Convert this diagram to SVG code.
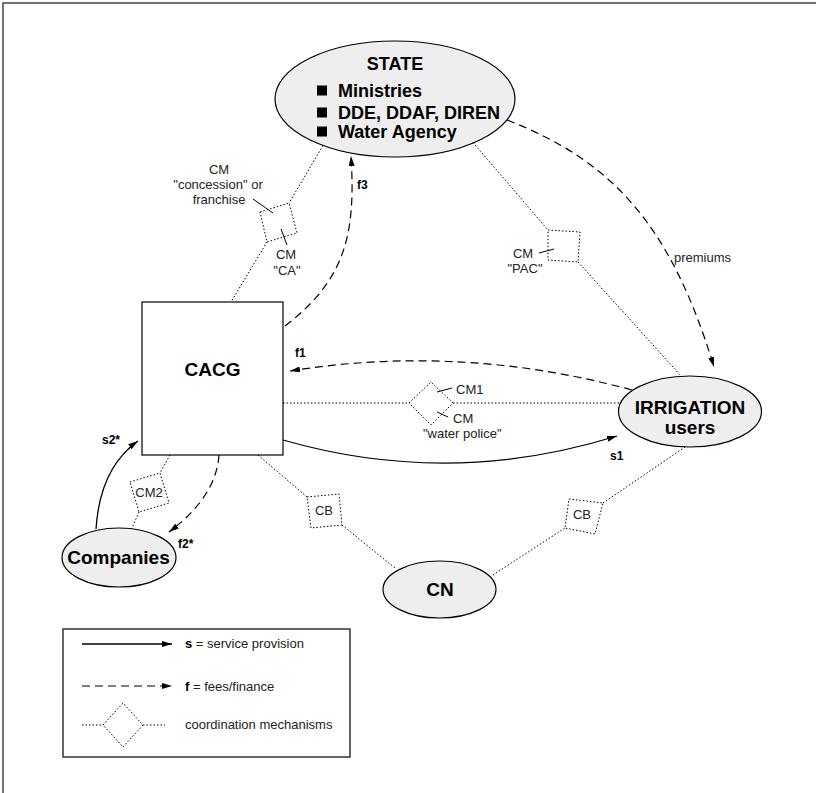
<svg xmlns="http://www.w3.org/2000/svg" width="816" height="793" viewBox="0 0 816 793">
<defs>
<marker id="ah" viewBox="0 0 10 6" refX="10" refY="3" markerWidth="10" markerHeight="6" markerUnits="userSpaceOnUse" orient="auto"><path d="M0,0 L10,3 L0,6 z" fill="#000"/></marker>
</defs>
<style>
.node{fill:#eeeeee;stroke:#000;stroke-width:1.2}
.box{fill:#fff;stroke:#000;stroke-width:1.2}
.dot{fill:none;stroke:#000;stroke-width:1;stroke-dasharray:1.5 2}
.dash{fill:none;stroke:#000;stroke-width:1.2;stroke-dasharray:8 5}
.solid{fill:none;stroke:#000;stroke-width:1.3}
.tick{stroke:#000;stroke-width:1}
.lbl{font-family:"Liberation Sans",Arial,sans-serif;font-size:13px;fill:#222}
.mid{text-anchor:middle}
.blbl{font-family:"Liberation Sans",Arial,sans-serif;font-size:12px;font-weight:bold;fill:#000}
.ntext{font-family:"Liberation Sans",Arial,sans-serif;font-size:19px;font-weight:bold;text-anchor:middle;fill:#000}
.stext{font-family:"Liberation Sans",Arial,sans-serif;font-size:18px;font-weight:bold;fill:#000}
</style>
<rect x="0" y="0" width="816" height="793" fill="#fff"/>
<rect x="3" y="3" width="900" height="900" fill="none" stroke="#444" stroke-width="1.5"/>

<g id="node-state">
<ellipse class="node" cx="395" cy="99" rx="120" ry="58"/>
<text class="stext" x="395" y="70" text-anchor="middle">STATE</text>
<rect x="317" y="85.5" width="10" height="10" fill="#000"/>
<text class="stext" x="338" y="97">Ministries</text>
<rect x="317" y="107.5" width="10" height="10" fill="#000"/>
<text class="stext" x="338" y="119">DDE, DDAF, DIREN</text>
<rect x="317" y="126.5" width="10" height="10" fill="#000"/>
<text class="stext" x="338" y="138">Water Agency</text>
</g>
<g id="node-cacg">
<rect class="box" x="142" y="302" width="141" height="153"/>
<text class="ntext" x="212.5" y="376">CACG</text>
</g>
<g id="node-irrigation">
<ellipse class="node" cx="690" cy="411.5" rx="71.5" ry="35.5"/>
<text class="ntext" x="690" y="414">IRRIGATION</text>
<text class="ntext" x="690" y="434">users</text>
</g>
<g id="node-companies">
<ellipse class="node" cx="119" cy="557.5" rx="57" ry="29.5"/>
<text class="ntext" x="118.5" y="564">Companies</text>
</g>
<g id="node-cn">
<ellipse class="node" cx="439.5" cy="589.5" rx="56.5" ry="28.5"/>
<text class="ntext" x="440" y="596">CN</text>
</g>

<g id="connectors">
<path class="dot" d="M323,145.5 L289,203"/>
<path class="dot" d="M267,242 L231,302"/>
<path class="dot" d="M473,142.5 L548,230"/>
<path class="dot" d="M578,262 L682,377"/>
<path class="dot" d="M283,403 L409,403"/>
<path class="dot" d="M453,403 L621,403"/>
<path class="dot" d="M170,455 L160,473"/>
<path class="dot" d="M139,512 L132,528"/>
<path class="dot" d="M258,455 L307,497"/>
<path class="dot" d="M342,525 L395,568"/>
<path class="dot" d="M493,575 L565,528"/>
<path class="dot" d="M603,503 L685,447"/>

<path class="dash" d="M285,326 C345,280 356,235 351,156" marker-end="url(#ah)"/>
<path class="dash" d="M507,120 C610,160 670,222 714,367" marker-end="url(#ah)"/>
<path class="dash" d="M632,390 Q461,343.5 290,371" marker-end="url(#ah)"/>
<path class="dash" d="M219,455 Q216,497 169,532" marker-end="url(#ah)"/>
<path class="solid" d="M283,440 Q450,488 617,436" marker-end="url(#ah)"/>
<path class="solid" d="M96,529 Q100,468 138,441" marker-end="url(#ah)"/>

<text class="blbl" x="357" y="189">f3</text>
<text class="blbl" x="295" y="357">f1</text>
<text class="blbl" x="610" y="460">s1</text>
<text class="blbl" x="102" y="444">s2*</text>
<text class="blbl" x="178" y="548">f2*</text>
<text class="lbl" x="674" y="262">premiums</text>
</g>

<g id="mechanisms">
<polygon class="dot" points="260,212 289,203 297,233 267,242"/>
<line class="tick" x1="253" y1="199" x2="273" y2="213"/>
<line class="tick" x1="281" y1="229" x2="287" y2="245"/>
<text class="lbl mid" x="219" y="174">CM</text>
<text class="lbl mid" x="218" y="189">"concession" or</text>
<text class="lbl mid" x="219" y="204">franchise</text>
<text class="lbl mid" x="286" y="259">CM</text>
<text class="lbl mid" x="287" y="275">"CA"</text>

<polygon class="dot" points="548,230 580,232 578,262 548,260"/>
<line class="tick" x1="539" y1="253" x2="554" y2="249"/>
<text class="lbl mid" x="523" y="258">CM</text>
<text class="lbl mid" x="525" y="273">"PAC"</text>

<polygon class="dot" points="409,403 431,382 453,403 431,425"/>
<line class="tick" x1="437" y1="392" x2="452" y2="388"/>
<line class="tick" x1="437" y1="412" x2="448" y2="417"/>
<text class="lbl" x="456" y="394">CM1</text>
<text class="lbl" x="453" y="423">CM</text>
<text class="lbl" x="423" y="438">"water police"</text>

<polygon class="dot" points="130,482 160,473 169,503 139,512"/>
<text class="lbl mid" x="149" y="497">CM2</text>

<polygon class="dot" points="307,497 339,494 342,525 311,528"/>
<text class="lbl mid" x="324" y="515">CB</text>
<polygon class="dot" points="569,499 603,503 595,534 565,528"/>
<text class="lbl mid" x="582" y="519">CB</text>
</g>

<g id="legend">
<rect x="63" y="629" width="287" height="128" fill="none" stroke="#333" stroke-width="1.5"/>
<path class="solid" d="M82,644 L172,644" marker-end="url(#ah)"/>
<path class="dash" d="M82,686 L172,686" marker-end="url(#ah)"/>
<path class="dot" d="M82,725 L103,725"/>
<path class="dot" d="M143,725 L165,725"/>
<polygon class="dot" points="103,725 123,703 143,725 123,747"/>
<text class="lbl" x="185" y="648"><tspan font-weight="bold" fill="#000">s</tspan> = service provision</text>
<text class="lbl" x="185" y="691"><tspan font-weight="bold" fill="#000">f</tspan> = fees/finance</text>
<text class="lbl" x="185" y="729">coordination mechanisms</text>
</g>
</svg>
